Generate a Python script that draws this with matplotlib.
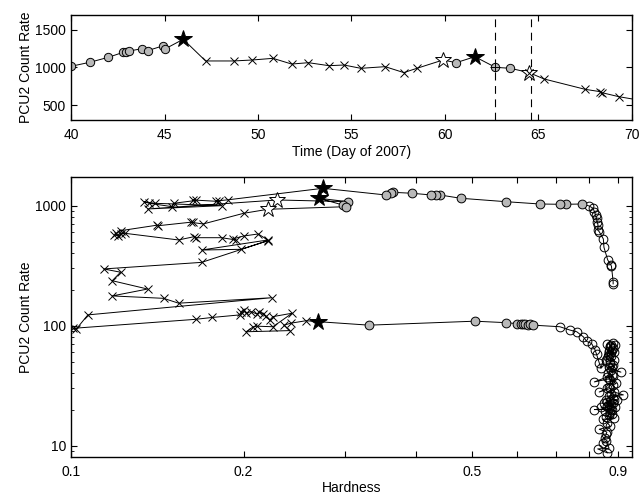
import numpy as np
import matplotlib
matplotlib.use('Agg')
import matplotlib.pyplot as plt
from matplotlib.ticker import FixedLocator, NullFormatter, FixedFormatter

plt.rcParams['font.family'] = ['Liberation Sans', 'DejaVu Sans']
plt.rcParams['font.size'] = 10

GREY = '0.72'

# ---------------- top panel: light curve ----------------
day_circ = [40.0, 41.0, 42.0, 42.8, 42.95, 43.1, 43.8, 44.1, 44.9, 45.05, 60.6, 62.7, 63.5]
rate_circ = [1016, 1069, 1136, 1203, 1212, 1220, 1250, 1225, 1287, 1250, 1064, 1002, 989]
day_star = [46.0, 61.6]
rate_star = [1376, 1144]
day_ostar = [59.9, 64.5]
rate_ostar = [1100, 932]
day_x = [47.2, 48.7, 49.7, 50.8, 51.8, 52.7, 53.8, 54.6, 55.5, 56.8, 57.8, 58.5,
         64.5, 65.3, 67.5, 68.3, 68.4, 69.3, 70.5]
rate_x = [1087, 1087, 1100, 1122, 1046, 1064, 1024, 1033, 989, 1011, 932, 989,
          932, 847, 709, 678, 664, 611, 560]
day_plus = [62.7]
rate_plus = [1002]
dash_days = [62.7, 64.6]

# ---------------- bottom panel: hardness-intensity ----------------
h_rise = [0.882, 0.882, 0.876, 0.874, 0.863, 0.850, 0.848, 0.834, 0.829, 0.830,
          0.827, 0.825, 0.822, 0.818, 0.814, 0.801]
c_rise = [223, 233, 313, 320, 353, 450, 528, 607, 627, 690,
          736, 785, 837, 891, 951, 994]
h_trans1 = [0.779, 0.731, 0.712, 0.657, 0.573, 0.478, 0.440, 0.433, 0.425, 0.393,
            0.364, 0.362, 0.354]
c_trans1 = [1033, 1027, 1027, 1033, 1080, 1153, 1228, 1228, 1228, 1269,
            1293, 1283, 1228]
h_star1 = [0.275]
c_star1 = [1396]
h_soft = [0.188, 0.179, 0.181, 0.163, 0.165, 0.151, 0.150, 0.137, 0.134, 0.140,
          0.183, 0.136]
c_soft = [1120, 1094, 1085, 1116, 1105, 1047, 981, 1047, 1080, 1047,
          1000, 939]
h_ostar1 = [0.229]
c_ostar1 = [1116]
h_grey1 = [0.304]
c_grey1 = [1080]
h_star2 = [0.2707]
c_star2 = [1152]
h_grey2 = [0.298, 0.302]
c_grey2 = [1013, 981]
h_ostar2 = [0.2205]
c_ostar2 = [933]
h_decl = [0.200, 0.170, 0.162, 0.163, 0.142, 0.141, 0.122, 0.120, 0.119, 0.121,
          0.122, 0.124, 0.154, 0.164, 0.165, 0.183, 0.194, 0.192, 0.200, 0.212,
          0.2205, 0.169, 0.198, 0.2205, 0.169, 0.114, 0.122, 0.118, 0.136, 0.118,
          0.145, 0.154, 0.224, 0.107, 0.102, 0.1007, 0.165, 0.176, 0.197, 0.198,
          0.200, 0.202, 0.206, 0.211, 0.213, 0.216, 0.219, 0.222, 0.225, 0.243,
          0.225, 0.211, 0.208, 0.202, 0.241, 0.235, 0.242, 0.257]
c_decl = [864, 704, 727, 731, 681, 687, 619, 589, 570, 559,
          581, 589, 518, 552, 541, 541, 518, 530, 559, 581,
          518, 427, 433, 511, 337, 297, 279, 237, 202, 177,
          169, 154, 171, 123, 93, 95, 113, 117, 123, 131,
          135, 127, 131, 125, 131, 125, 120, 111, 119, 127,
          98, 99, 98, 89, 91, 101, 105, 110]
h_star3 = [0.2697]
c_star3 = [108]
h_grey3 = [0.331, 0.506, 0.573, 0.600, 0.608, 0.615, 0.620, 0.626, 0.632, 0.640]
c_grey3 = [101, 109, 106, 104, 103, 104, 103, 102, 104, 101]
h_decay = [0.712, 0.741, 0.762, 0.782, 0.793, 0.809, 0.820, 0.825, 0.834, 0.840,
           0.862, 0.874, 0.872, 0.879, 0.880, 0.868, 0.884, 0.866, 0.857, 0.870,
           0.882, 0.889, 0.876, 0.875, 0.864, 0.885, 0.872, 0.870, 0.880, 0.878,
           0.868, 0.910, 0.875, 0.865, 0.883, 0.862, 0.818, 0.866, 0.871, 0.893,
           0.880, 0.878, 0.868, 0.860, 0.834, 0.872, 0.876, 0.886, 0.919, 0.866,
           0.880, 0.884, 0.896, 0.858, 0.862, 0.872, 0.851, 0.880, 0.874, 0.862,
           0.889, 0.866, 0.876, 0.818, 0.879, 0.855, 0.840, 0.870, 0.878, 0.868,
           0.858, 0.886, 0.846, 0.862, 0.872, 0.834, 0.860, 0.858, 0.852, 0.848,
           0.857, 0.868, 0.829, 0.862]
c_decay = [98, 92, 89, 81, 74, 71, 63, 58, 49, 44,
           71, 69, 68, 63, 65, 57, 60, 62, 52, 66,
           72, 69, 56, 60, 55, 52, 50, 48, 47, 45,
           45, 41, 43, 40, 38, 37.5, 34, 36, 35, 33,
           32, 39, 31, 30, 28, 30, 27, 28, 26.5, 26,
           25, 24, 24, 24, 23, 23.5, 22.5, 22.5, 22, 21.5,
           21, 20.5, 20.3, 20, 20, 19.5, 21, 19, 18.5, 18,
           17.5, 17, 16.6, 15.5, 14.5, 13.7, 13, 12.5, 11.5, 10.5,
           10.9, 9.5, 9.4, 8.7]


def mark(ax, x, y, m, face, size):
    ax.plot(x, y, ls='none', marker=m, ms=size, mfc=face, mec='k', mew=0.7)


fig = plt.figure(figsize=(6.41, 4.99), dpi=100)

# top panel
ax1 = fig.add_axes([0.1108, 0.7595, 0.875, 0.2105])
order = np.argsort(day_circ + day_star + day_ostar + day_x, kind='stable')
all_d = np.array(day_circ + day_star + day_ostar + day_x)[order]
all_r = np.array(rate_circ + rate_star + rate_ostar + rate_x)[order]
ax1.plot(all_d, all_r, color='k', lw=0.7)
for d in dash_days:
    ax1.axvline(d, color='k', lw=0.8, ls=(0, (7, 5)))
mark(ax1, day_circ, rate_circ, 'o', GREY, 6)
mark(ax1, day_x, rate_x, 'x', 'none', 6)
mark(ax1, day_plus, rate_plus, '+', 'none', 7)
mark(ax1, day_star, rate_star, '*', 'k', 13)
mark(ax1, day_ostar, rate_ostar, '*', 'white', 12)
mark(ax1, [64.5], [932], 'x', 'none', 6)
ax1.set_xlim(40, 70)
ax1.set_ylim(300, 1700)
ax1.set_xticks([40, 45, 50, 55, 60, 65, 70])
ax1.set_yticks([500, 1000, 1500])
ax1.set_xlabel('Time (Day of 2007)', labelpad=2)
ax1.set_ylabel('PCU2 Count Rate', labelpad=2)
ax1.tick_params(direction='in', top=True, right=True, length=4, width=0.8)
ax1.tick_params(axis='x', pad=6)

# bottom panel
ax2 = fig.add_axes([0.1108, 0.0842, 0.875, 0.5611])
seq_h = (h_rise + h_trans1 + h_star1 + h_soft + h_ostar1 + h_grey1 + h_star2 + h_grey2
         + h_ostar2 + h_decl + h_star3 + h_grey3 + h_decay)
seq_c = (c_rise + c_trans1 + c_star1 + c_soft + c_ostar1 + c_grey1 + c_star2 + c_grey2
         + c_ostar2 + c_decl + c_star3 + c_grey3 + c_decay)
ax2.plot(seq_h, seq_c, color='k', lw=0.7)
mark(ax2, h_rise, c_rise, 'o', 'none', 6.3)
mark(ax2, h_decay, c_decay, 'o', 'none', 6.3)
mark(ax2, h_trans1 + h_grey1 + h_grey2 + h_grey3, c_trans1 + c_grey1 + c_grey2 + c_grey3,
     'o', GREY, 6.3)
mark(ax2, h_soft + h_decl, c_soft + c_decl, 'x', 'none', 6)
mark(ax2, h_star1 + h_star2 + h_star3, c_star1 + c_star2 + c_star3, '*', 'k', 13)
mark(ax2, h_ostar1 + h_ostar2, c_ostar1 + c_ostar2, '*', 'white', 12)
ax2.set_xscale('log')
ax2.set_yscale('log')
ax2.set_xlim(0.1, 0.951)
ax2.set_ylim(8.05, 1734)
ax2.xaxis.set_major_locator(FixedLocator([0.1, 0.2, 0.5, 0.9]))
ax2.xaxis.set_major_formatter(FixedFormatter(['0.1', '0.2', '0.5', '0.9']))
ax2.xaxis.set_minor_locator(FixedLocator([0.3, 0.4, 0.6, 0.7, 0.8]))
ax2.xaxis.set_minor_formatter(NullFormatter())
ax2.set_yticks([10, 100, 1000])
ax2.set_yticklabels(['10', '100', '1000'])
ax2.set_xlabel('Hardness', labelpad=1)
ax2.set_ylabel('PCU2 Count Rate', labelpad=2)
ax2.tick_params(which='major', direction='in', top=True, right=True, length=4, width=0.8)
ax2.tick_params(axis='x', which='minor', direction='in', top=True, length=4, width=0.8)
ax2.tick_params(axis='y', which='minor', direction='in', right=True, length=2.5, width=0.6)
ax2.tick_params(axis='x', which='major', pad=6)

for ax in (ax1, ax2):
    for s in ax.spines.values():
        s.set_linewidth(1.0)

fig.savefig('out.png', dpi=100)
